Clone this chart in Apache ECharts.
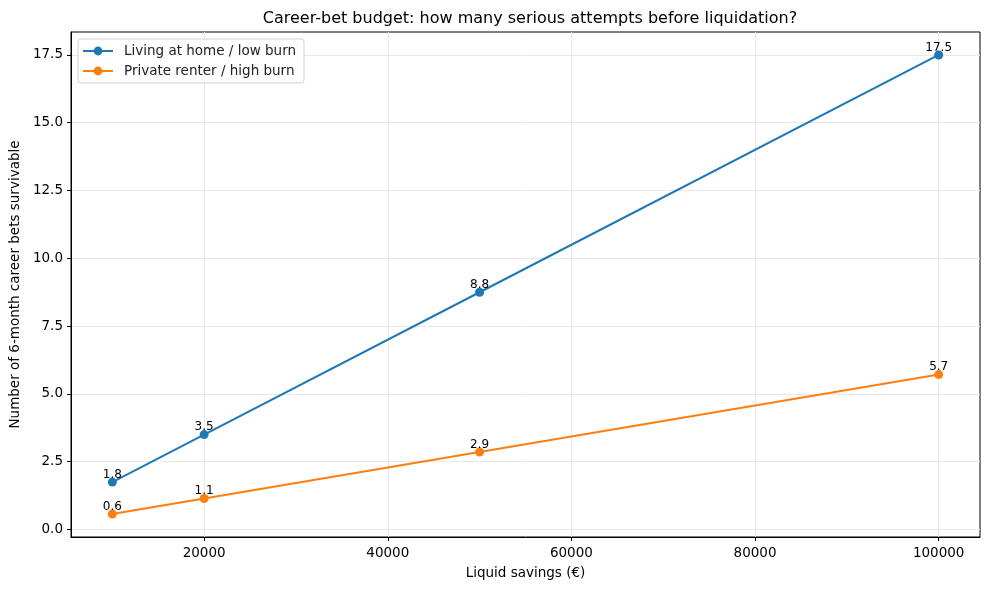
<!DOCTYPE html>
<html>
<head>
<meta charset="utf-8">
<script src="https://cdn.jsdelivr.net/npm/echarts@6/dist/echarts.min.js"></script>
<style>html,body{margin:0;padding:0;background:#fff}#c{width:989px;height:590px}</style>
</head>
<body>
<div id="c"></div>
<script>
const savings = [10000, 20000, 50000, 100000];
const lowBurn = [1.75, 3.5, 8.75, 17.5];
const highBurn = [0.571, 1.143, 2.857, 5.714];
const xTicks = [20000, 40000, 60000, 80000, 100000];
const yTicks = [0, 2.5, 5, 7.5, 10, 12.5, 15, 17.5];
const seriesNames = ['Living at home / low burn', 'Private renter / high burn'];
const colors = ['#1f77b4', '#ff7f0e'];

const FONT = 'DejaVu Sans';
const chart = echarts.init(document.getElementById('c'), null, {renderer: 'canvas'});

function mkSeries(name, vals, color) {
  return {
    name: name,
    type: 'line',
    data: savings.map((x, i) => [x, vals[i]]),
    symbol: 'circle',
    symbolSize: 9,
    lineStyle: {color: color, width: 2},
    itemStyle: {color: color},
    label: {
      show: true, position: 'top', distance: -3,
      fontFamily: FONT, fontSize: 12, color: '#000',
      formatter: p => p.value[1].toFixed(1)
    },
    emphasis: {disabled: true},
    animation: false
  };
}

chart.setOption({
  animation: false,
  color: colors,
  title: {
    text: 'Career-bet budget: how many serious attempts before liquidation?',
    left: 525, top: 6, textAlign: 'center',
    textStyle: {fontFamily: FONT, fontSize: 16, fontWeight: 'normal', color: '#000'}
  },
  legend: {
    left: 78, top: 39, orient: 'vertical',
    itemWidth: 30, itemHeight: 11, itemGap: 6,
    backgroundColor: 'rgba(255,255,255,0.8)', borderColor: '#d0d0d0', borderWidth: 1, borderRadius: 3,
    padding: [5, 8, 5, 4],
    textStyle: {fontFamily: FONT, fontSize: 13.5, color: '#222', padding: [0, 0, 0, 6]},
    data: seriesNames
  },
  grid: {left: 71, right: 9, top: 32, bottom: 53, containLabel: false, outerBoundsMode: 'none',
    show: true, borderColor: '#000', borderWidth: 1, backgroundColor: 'transparent'},
  xAxis: {
    type: 'value', min: 5500, max: 104500,
    name: 'Liquid savings (€)', nameLocation: 'middle', nameGap: 29,
    nameTextStyle: {fontFamily: FONT, fontSize: 13.5, color: '#000'},
    axisLine: {show: true, onZero: false, lineStyle: {color: '#000', width: 1}},
    axisTick: {show: true, customValues: xTicks, length: 4, lineStyle: {color: '#000'}},
    axisLabel: {customValues: xTicks, fontFamily: FONT, fontSize: 13.5, color: '#000', margin: 9,
      formatter: v => String(v)},
    splitLine: {show: true, lineStyle: {color: '#e8e8e8', width: 1}}
  },
  yAxis: {
    type: 'value', min: -0.2757, max: 18.3464,
    name: 'Number of 6-month career bets survivable', nameLocation: 'middle', nameGap: 47,
    nameTextStyle: {fontFamily: FONT, fontSize: 13.5, color: '#000'},
    axisLine: {show: true, onZero: false, lineStyle: {color: '#000', width: 1}},
    axisTick: {show: true, customValues: yTicks, length: 4, lineStyle: {color: '#000'}},
    axisLabel: {customValues: yTicks, fontFamily: FONT, fontSize: 13.5, color: '#000', margin: 8,
      formatter: v => v.toFixed(1)},
    splitLine: {show: true, lineStyle: {color: '#e8e8e8', width: 1}}
  },
  series: [
    mkSeries(seriesNames[0], lowBurn, colors[0]),
    mkSeries(seriesNames[1], highBurn, colors[1])
  ]
});
</script>
</body>
</html>
